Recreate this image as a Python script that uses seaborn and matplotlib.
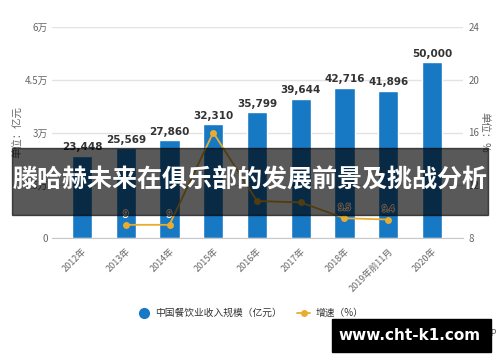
import pandas as pd
import matplotlib
matplotlib.use("Agg")
import matplotlib.pyplot as plt
import seaborn as sns
from matplotlib.lines import Line2D
from matplotlib.patches import Rectangle
import matplotlib.patheffects as pe

years = ["2012年", "2013年", "2014年", "2015年", "2016年", "2017年",
         "2018年", "2019年前11月", "2020年"]
revenue = [23448, 25569, 27860, 32310, 35799, 39644, 42716, 41896, 50000]
growth = [None, 9.0, 9.0, 16.0, 10.8, 10.7, 9.5, 9.4, None]
growth_labels = ["", "9", "9", "", "", "", "9.5", "9.4", ""]
left_ticks = [0, 15000, 30000, 45000, 60000]
left_tick_labels = ["0", "1.5万", "3万", "4.5万", "6万"]
right_ticks = [8, 12, 16, 20, 24]

bar_color = "#1778c4"
line_color = "#e8ad2e"
text_grey = "#666666"

sns.set_style("white")
plt.rcParams["font.family"] = ["Noto Sans CJK SC", "DejaVu Sans"]

df = pd.DataFrame({"year": years, "revenue": revenue, "growth": growth,
                   "pos": range(len(years))})

fig = plt.figure(figsize=(5, 3.62), dpi=100)
ax = fig.add_axes([52 / 500, 1 - 238 / 362, (463 - 52) / 500, (238 - 27) / 362])

sns.barplot(data=df, x="pos", y="revenue", color=bar_color, width=0.46,
            saturation=1, ax=ax, zorder=2)
ax.set_xlim(-0.686, 8.709)
ax.set_ylim(0, 60000)
ax.set_yticks(left_ticks)
ax.set_yticklabels(left_tick_labels)
ax.set_xticks(range(len(years)))
ax.set_xticklabels(years, rotation=45, ha="right", rotation_mode="anchor")
ax.grid(axis="y", color="#e3e3e3", lw=1, zorder=0)
ax.set_axisbelow(True)
for s in ["top", "right", "left"]:
    ax.spines[s].set_visible(False)
ax.spines["bottom"].set_color("#c8c8c8")
ax.tick_params(axis="x", length=4, color="#c8c8c8", labelsize=6.5,
               labelcolor=text_grey, pad=2)
ax.tick_params(axis="y", length=0, labelsize=7, labelcolor=text_grey, pad=3)
ax.set_xlabel("")
ax.set_ylabel("单位：亿元", fontsize=7.5, color=text_grey, labelpad=1)

for i, v in enumerate(revenue):
    ax.text(i, v + 1000, f"{v:,}", ha="center", va="bottom", fontsize=7.5,
            fontweight="bold", color="#333333", family="DejaVu Sans")

ax2 = ax.twinx()
line_df = df.dropna(subset=["growth"])
sns.lineplot(data=line_df, x="pos", y="growth", color=line_color, lw=1.3,
             marker="o", markersize=5, markeredgewidth=0, ax=ax2, zorder=3)
ax2.set_ylim(8, 24)
ax2.set_yticks(right_ticks)
ax2.set_xlim(-0.686, 8.709)
for s in ["top", "right", "left", "bottom"]:
    ax2.spines[s].set_visible(False)
ax2.tick_params(axis="y", length=0, labelsize=7, labelcolor=text_grey, pad=4)
ax2.set_ylabel("单位：%", fontsize=7.5, color=text_grey, rotation=270,
               labelpad=7)
ax2.set_xlabel("")
for i, (g, lab) in enumerate(zip(growth, growth_labels)):
    if lab:
        ax2.text(i, g + 0.45, lab, ha="center", va="bottom", fontsize=6.5,
                 color="#444444",
                 path_effects=[pe.withStroke(linewidth=1.5, foreground="white")])

handles = [
    Line2D([], [], color=bar_color, marker="o", ls="none", markersize=7),
    Line2D([], [], color=line_color, marker="o", lw=1.3, markersize=4),
]
fig.legend(handles, ["中国餐饮业收入规模（亿元）", "增速（%）"],
           loc="center", bbox_to_anchor=(0.5, 1 - 313 / 362), ncol=2,
           frameon=False, fontsize=7, handlelength=1.4, columnspacing=1.5,
           handletextpad=0.5, labelcolor="#333333")

# title banner across the middle
fig.patches.append(Rectangle((12 / 500, 1 - 215 / 362), 476 / 500, 67 / 362,
                             transform=fig.transFigure, color="black",
                             alpha=0.65, zorder=10))
fig.text(0.5, 1 - 181 / 362, "滕哈赫未来在俱乐部的发展前景及挑战分析",
         ha="center", va="center", fontsize=18, fontweight="bold",
         color="white", zorder=11)

# source and site watermark
fig.text(0.994, 1 - 333 / 362, "© 前瞻经济学人APP", ha="right", va="center",
         fontsize=6.5, color="#555555")
fig.patches.append(Rectangle((332 / 500, 1 - 352 / 362), 159 / 500, 33 / 362,
                             transform=fig.transFigure, color="black",
                             zorder=10))
fig.text(410 / 500, 1 - 335 / 362, "www.cht-k1.com", ha="center",
         va="center", fontsize=11, fontweight="bold", color="white",
         family="DejaVu Sans", zorder=11)

fig.savefig("out.png", dpi=100)
